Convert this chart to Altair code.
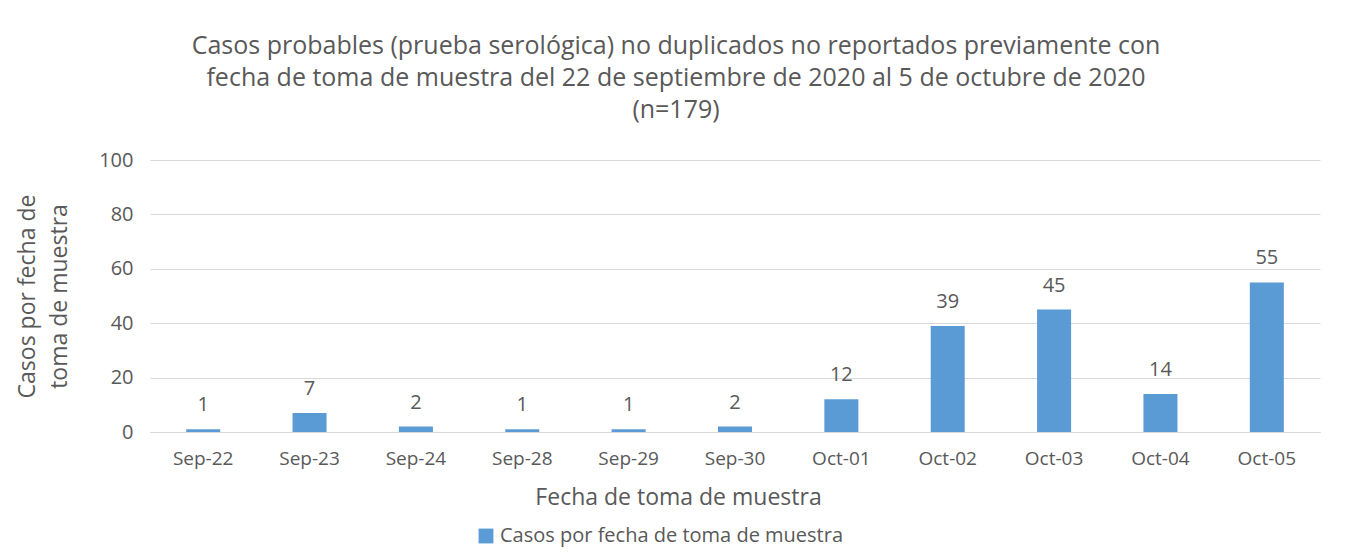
import altair as alt
import pandas as pd

fechas = ["Sep-22", "Sep-23", "Sep-24", "Sep-28", "Sep-29", "Sep-30",
          "Oct-01", "Oct-02", "Oct-03", "Oct-04", "Oct-05"]
casos = [1, 7, 2, 1, 1, 2, 12, 39, 45, 14, 55]
serie = "Casos por fecha de toma de muestra"

df = pd.DataFrame({"fecha": fechas, "casos": casos, "serie": [serie] * len(fechas)})

FONT = "Open Sans"
GRAY = "#595959"
BLUE = "#5B9BD5"

x = alt.X("fecha:N", sort=fechas,
          scale=alt.Scale(paddingInner=0.68, paddingOuter=0.34),
          axis=alt.Axis(title="Fecha de toma de muestra", labelAngle=0,
                        labelFontSize=19, labelColor=GRAY, labelPadding=17,
                        ticks=False, domainColor="#D9D9D9",
                        titleFontSize=23, titleColor=GRAY, titleFontWeight="normal",
                        titleX=528, titleY=65, titleBaseline="middle"))
y = alt.Y("casos:Q",
          scale=alt.Scale(domain=[0, 100]),
          axis=alt.Axis(title=["Casos por fecha de", "toma de muestra"],
                        values=[0, 20, 40, 60, 80, 100],
                        labelFontSize=20, labelColor=GRAY, labelPadding=17,
                        ticks=False, domain=False, gridColor="#D9D9D9",
                        titleFontSize=23, titleColor=GRAY, titleFontWeight="normal",
                        titleAngle=-90, titleX=-134, titleY=136,
                        titleAlign="center", titleBaseline="top", titleLineHeight=32))

bars = alt.Chart(df).mark_bar().encode(
    x=x, y=y,
    color=alt.Color("serie:N", scale=alt.Scale(domain=[serie], range=[BLUE]),
                    legend=alt.Legend(title=None, orient="none", legendX=326, legendY=366,
                                      symbolType="square", symbolSize=220,
                                      symbolStrokeWidth=0, labelFontSize=20,
                                      labelColor=GRAY, labelLimit=600)),
)
labels = alt.Chart(df).mark_text(fontSize=20, color=GRAY, font=FONT, dy=-18,
                                 baseline="alphabetic").encode(
    x=alt.X("fecha:N", sort=fechas), y="casos:Q", text="casos:Q")

chart = alt.layer(bars, labels).properties(
    width=1170, height=272,
    autosize=alt.AutoSizeParams(type="none"),
    padding={"left": 142, "top": 152, "right": 15, "bottom": 119},
    title=alt.TitleParams(
        text=["Casos probables (prueba serológica) no duplicados no reportados previamente con",
              "fecha de toma de muestra del 22 de septiembre de 2020 al 5 de octubre de 2020",
              "(n=179)"],
        fontSize=25, font=FONT, color=GRAY, fontWeight="normal",
        lineHeight=32, anchor="middle", dx=-59, offset=27),
).configure(font=FONT).configure_view(stroke=None)

chart.save("out.html", embed_options={"renderer": "svg", "actions": False})
